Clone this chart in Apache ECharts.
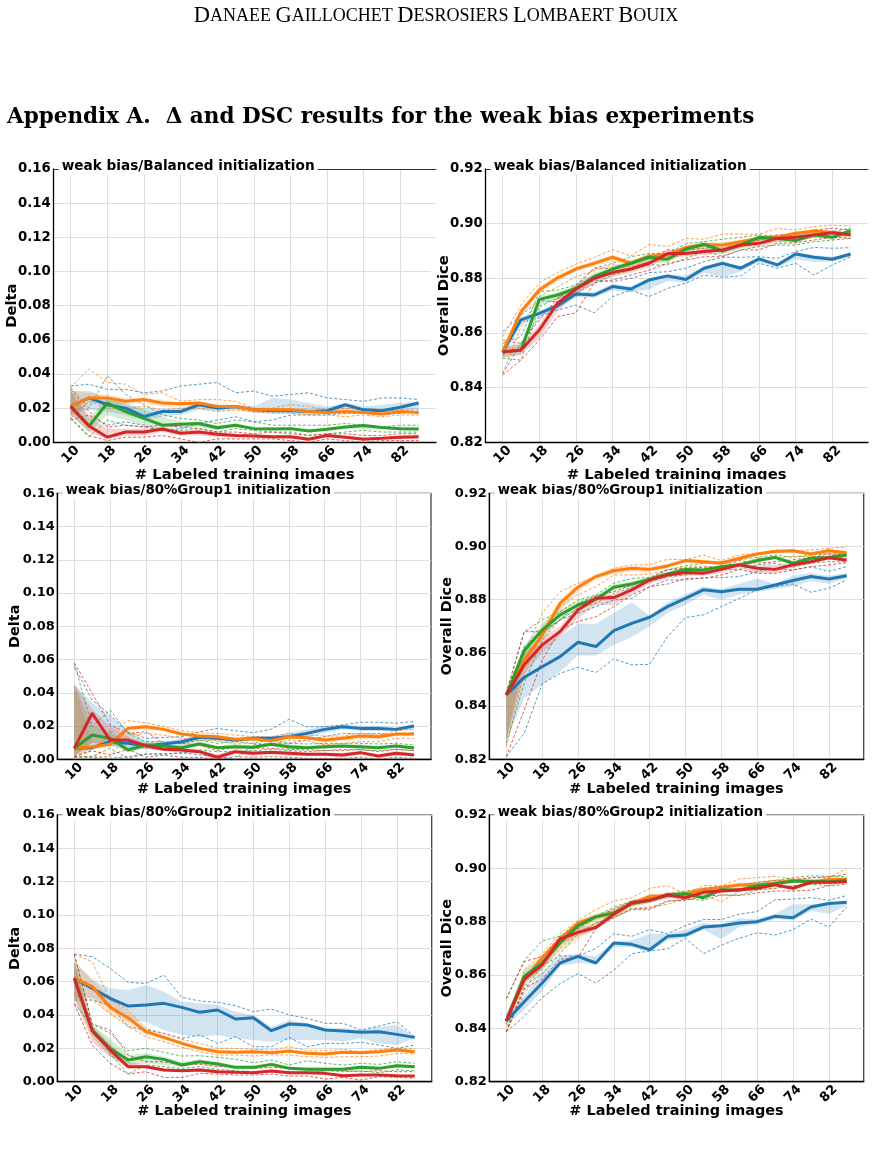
<!DOCTYPE html>
<html>
<head>
<meta charset="utf-8">
<script src="https://cdn.jsdelivr.net/npm/echarts@6/dist/echarts.min.js"></script>
<style>
html, body { margin: 0; padding: 0; background: #fff; }
#page { width: 872px; height: 1153px; }
</style>
</head>
<body>
<div id="page"></div>
<script>
// x = number of labeled training images
const xs = [10, 14, 18, 22, 26, 30, 34, 38, 42, 46, 50, 54, 58, 62, 66, 70, 74, 78, 82, 86]
const xTicks = [10, 18, 26, 34, 42, 50, 58, 66, 74, 82]
const panelTitles = [
    'weak bias/Balanced initialization', 'weak bias/Balanced initialization',
    'weak bias/80%Group1 initialization', 'weak bias/80%Group1 initialization',
    'weak bias/80%Group2 initialization', 'weak bias/80%Group2 initialization'
]
const yNames = ['Delta', 'Overall Dice', 'Delta', 'Overall Dice', 'Delta', 'Overall Dice']
const xName = '# Labeled training images'
const deltaRange = [0, 0.16]
const diceRange = [0.82, 0.92]

// ---- Balanced / Delta ----
const balDeltaBlue = [0.021,0.026,0.022,0.020,0.015,0.018,0.018,0.022,0.020,0.021,0.019,0.0185,0.0185,0.018,0.0185,0.022,0.019,0.0185,0.0205,0.023]
const balDeltaBlueHi = [0.033,0.034,0.031,0.031,0.029,0.030,0.033,0.034,0.035,0.029,0.030,0.027,0.028,0.029,0.026,0.025,0.024,0.026,0.026,0.025]
const balDeltaBlueLo = [0.013,0.016,0.010,0.012,0.010,0.007,0.008,0.011,0.013,0.015,0.012,0.013,0.016,0.016,0.016,0.017,0.017,0.016,0.017,0.018]
const balDeltaBlueBandLo = [0.016,0.019,0.018,0.016,0.013,0.015,0.016,0.019,0.018,0.019,0.017,0.017,0.017,0.016,0.017,0.019,0.018,0.017,0.018,0.019]
const balDeltaBlueBandHi = [0.030,0.030,0.026,0.023,0.020,0.019,0.020,0.023,0.022,0.022,0.021,0.026,0.025,0.023,0.021,0.023,0.021,0.022,0.023,0.024]
const balDeltaOrange = [0.021,0.026,0.026,0.024,0.025,0.023,0.0225,0.023,0.021,0.021,0.019,0.019,0.019,0.018,0.0175,0.018,0.0175,0.0165,0.018,0.0175]
const balDeltaOrangeHi = [0.032,0.043,0.035,0.034,0.028,0.029,0.024,0.025,0.025,0.024,0.020,0.020,0.022,0.021,0.019,0.020,0.019,0.018,0.019,0.019]
const balDeltaOrangeLo = [0.014,0.024,0.020,0.020,0.021,0.019,0.020,0.020,0.018,0.019,0.018,0.017,0.017,0.016,0.016,0.015,0.016,0.015,0.016,0.016]
const balDeltaOrangeBandLo = [0.016,0.023,0.023,0.022,0.023,0.021,0.021,0.021,0.020,0.020,0.018,0.018,0.018,0.017,0.017,0.017,0.017,0.016,0.017,0.017]
const balDeltaOrangeBandHi = [0.030,0.029,0.028,0.026,0.026,0.025,0.023,0.024,0.022,0.022,0.020,0.020,0.020,0.019,0.018,0.019,0.018,0.017,0.018,0.018]
const balDeltaGreen = [0.021,0.0095,0.023,0.018,0.014,0.010,0.0105,0.011,0.0085,0.010,0.008,0.0078,0.008,0.0066,0.0076,0.009,0.0098,0.0086,0.008,0.0078]
const balDeltaGreenHi = [0.032,0.020,0.039,0.028,0.022,0.016,0.014,0.013,0.011,0.013,0.012,0.010,0.010,0.010,0.010,0.011,0.010,0.009,0.010,0.010]
const balDeltaGreenLo = [0.014,0.003,0.013,0.010,0.009,0.007,0.007,0.008,0.006,0.008,0.007,0.006,0.006,0.004,0.005,0.006,0.007,0.006,0.006,0.006]
const balDeltaGreenBandLo = [0.016,0.006,0.016,0.013,0.010,0.008,0.009,0.009,0.007,0.009,0.007,0.007,0.007,0.006,0.007,0.008,0.008,0.008,0.007,0.007]
const balDeltaGreenBandHi = [0.030,0.014,0.026,0.022,0.019,0.015,0.012,0.012,0.010,0.011,0.009,0.009,0.009,0.008,0.008,0.010,0.010,0.009,0.009,0.009]
const balDeltaRed = [0.021,0.0095,0.003,0.006,0.006,0.0078,0.0053,0.006,0.0047,0.004,0.0037,0.0033,0.0033,0.0018,0.004,0.003,0.0018,0.0023,0.003,0.0033]
const balDeltaRedHi = [0.031,0.018,0.009,0.010,0.009,0.010,0.009,0.008,0.006,0.006,0.005,0.006,0.005,0.004,0.005,0.005,0.004,0.004,0.005,0.005]
const balDeltaRedLo = [0.014,0.004,0.001,0.003,0.003,0.004,0.002,0.000,0.002,0.002,0.002,0.002,0.001,0.000,0.002,0.001,0.000,0.001,0.001,0.001]
const balDeltaRedBandLo = [0.016,0.006,0.002,0.004,0.004,0.006,0.004,0.004,0.003,0.003,0.003,0.002,0.002,0.001,0.003,0.002,0.001,0.002,0.002,0.002]
const balDeltaRedBandHi = [0.030,0.016,0.008,0.008,0.008,0.009,0.007,0.007,0.006,0.005,0.005,0.004,0.004,0.003,0.005,0.004,0.003,0.003,0.004,0.004]

// ---- Balanced / Dice ----
const balDiceBlue = [0.853,0.8648,0.8672,0.870,0.8743,0.8739,0.877,0.8761,0.8794,0.8809,0.8796,0.8837,0.8855,0.8837,0.8871,0.8849,0.8889,0.8877,0.887,0.8889]
const balDiceBlueHi = [0.8605,0.8666,0.8718,0.8715,0.8745,0.8794,0.8788,0.880,0.8821,0.8824,0.8837,0.8861,0.8877,0.8877,0.8879,0.8873,0.8898,0.8913,0.891,0.8912]
const balDiceBlueLo = [0.845,0.8562,0.866,0.8684,0.8702,0.8674,0.8733,0.8757,0.8733,0.8763,0.8782,0.8812,0.8804,0.8809,0.8855,0.8837,0.8855,0.8812,0.8849,0.8879]
const balDiceBlueBandLo = [0.851,0.863,0.866,0.869,0.873,0.873,0.8755,0.875,0.876,0.879,0.8785,0.882,0.8805,0.8825,0.886,0.884,0.887,0.886,0.8862,0.888]
const balDiceBlueBandHi = [0.855,0.866,0.868,0.871,0.875,0.875,0.878,0.877,0.880,0.8815,0.881,0.8845,0.886,0.8845,0.8875,0.8855,0.8895,0.8885,0.888,0.889]
const balDiceOrange = [0.853,0.8678,0.8757,0.8802,0.8834,0.8855,0.8877,0.8855,0.8882,0.8885,0.8913,0.8924,0.8922,0.8934,0.8946,0.895,0.8965,0.8973,0.8968,0.8961]
const balDiceOrangeHi = [0.8587,0.8702,0.8784,0.8821,0.8852,0.8877,0.8904,0.8882,0.8924,0.8916,0.8946,0.8943,0.8962,0.8962,0.8962,0.8982,0.8977,0.8989,0.8995,0.8991]
const balDiceOrangeLo = [0.8452,0.8623,0.8733,0.877,0.8806,0.8828,0.8849,0.8843,0.8861,0.8867,0.8891,0.8904,0.8904,0.8916,0.8928,0.8934,0.894,0.895,0.8952,0.895]
const balDiceOrangeBandLo = [0.851,0.866,0.8745,0.879,0.8825,0.8845,0.886,0.885,0.8872,0.8875,0.890,0.8915,0.891,0.8925,0.8938,0.894,0.8955,0.8965,0.896,0.8955]
const balDiceOrangeBandHi = [0.855,0.869,0.877,0.8812,0.8842,0.8862,0.8885,0.8865,0.889,0.8893,0.892,0.8932,0.8932,0.8942,0.8952,0.8958,0.897,0.898,0.8975,0.8968]
const balDiceGreen = [0.853,0.8538,0.8723,0.8739,0.8763,0.8806,0.8834,0.8855,0.8877,0.887,0.8907,0.8924,0.8901,0.8922,0.895,0.8946,0.8938,0.8959,0.895,0.8974]
const balDiceGreenHi = [0.8562,0.8587,0.8751,0.8757,0.8776,0.8837,0.8855,0.8879,0.8891,0.8891,0.8926,0.8934,0.8943,0.895,0.8959,0.8955,0.8959,0.8971,0.8971,0.8983]
const balDiceGreenLo = [0.8507,0.8501,0.8696,0.8727,0.8745,0.8782,0.8812,0.883,0.8849,0.8849,0.8873,0.8898,0.8882,0.8904,0.8916,0.8922,0.8922,0.8934,0.894,0.8946]
const balDiceGreenBandLo = [0.851,0.852,0.870,0.8725,0.875,0.879,0.882,0.884,0.886,0.8855,0.8895,0.891,0.889,0.891,0.8938,0.8935,0.8928,0.8948,0.894,0.8962]
const balDiceGreenBandHi = [0.855,0.856,0.8735,0.875,0.8775,0.882,0.8845,0.8865,0.8885,0.888,0.8915,0.8935,0.891,0.8932,0.8958,0.8955,0.8948,0.8968,0.8958,0.8982]
const balDiceRed = [0.853,0.8538,0.8611,0.8709,0.876,0.880,0.8821,0.8834,0.8855,0.8891,0.8891,0.8898,0.8904,0.8922,0.8928,0.8946,0.895,0.8959,0.8967,0.8959]
const balDiceRedHi = [0.8574,0.8562,0.8648,0.8727,0.877,0.8837,0.8837,0.8855,0.8873,0.8904,0.8904,0.891,0.8922,0.8934,0.894,0.8959,0.8962,0.8977,0.8983,0.8977]
const balDiceRedLo = [0.8446,0.8501,0.8574,0.866,0.8674,0.8784,0.8794,0.8812,0.883,0.8855,0.8867,0.8879,0.8879,0.8904,0.8904,0.8928,0.893,0.894,0.895,0.8946]
const balDiceRedBandLo = [0.851,0.852,0.858,0.868,0.874,0.878,0.8805,0.882,0.884,0.8875,0.888,0.8885,0.889,0.891,0.8915,0.8935,0.894,0.895,0.8958,0.895]
const balDiceRedBandHi = [0.855,0.856,0.863,0.873,0.878,0.8815,0.8835,0.885,0.887,0.8905,0.8902,0.891,0.8915,0.8932,0.894,0.8955,0.896,0.8968,0.8975,0.8968]

// ---- 80%Group1 / Delta ----
const g1DeltaBlue = [0.0066,0.007,0.0106,0.0096,0.0082,0.0092,0.0106,0.0132,0.0126,0.0116,0.0126,0.0126,0.0136,0.0156,0.018,0.0196,0.0186,0.0186,0.018,0.020]
const g1DeltaBlueHi = [0.0557,0.0357,0.0267,0.0166,0.0126,0.0132,0.0136,0.0166,0.0186,0.0172,0.016,0.018,0.024,0.0196,0.0196,0.0206,0.0223,0.0223,0.0217,0.0227]
const g1DeltaBlueLo = [0.0012,0.0012,0.0006,0.0016,0.0032,0.0032,0.004,0.0026,0.0016,0.000,0.0086,0.0096,0.0096,0.0116,0.0136,0.0156,0.0152,0.0156,0.0146,0.016]
const g1DeltaBlueBandLo = [0.002,0.006,0.008,0.006,0.006,0.007,0.008,0.011,0.011,0.010,0.011,0.011,0.012,0.013,0.016,0.018,0.017,0.017,0.017,0.018]
const g1DeltaBlueBandHi = [0.045,0.034,0.026,0.017,0.011,0.011,0.012,0.015,0.014,0.013,0.014,0.014,0.016,0.018,0.020,0.021,0.020,0.020,0.019,0.021]
const g1DeltaOrange = [0.0066,0.0076,0.009,0.0186,0.0196,0.018,0.0152,0.014,0.0136,0.012,0.0124,0.0112,0.0136,0.013,0.0116,0.0126,0.014,0.0136,0.0152,0.0152]
const g1DeltaOrangeHi = [0.0016,0.0056,0.0156,0.0233,0.022,0.0196,0.0172,0.016,0.0156,0.0146,0.0136,0.0132,0.0156,0.0146,0.014,0.014,0.016,0.0146,0.0172,0.018]
const g1DeltaOrangeLo = [0.0012,0.002,0.0016,0.0146,0.0156,0.0146,0.0126,0.0116,0.0112,0.0092,0.0096,0.009,0.0116,0.0112,0.0086,0.0096,0.0106,0.0106,0.0126,0.0126]
const g1DeltaOrangeBandLo = [0.002,0.006,0.007,0.017,0.018,0.017,0.014,0.013,0.012,0.011,0.011,0.010,0.012,0.012,0.010,0.011,0.012,0.012,0.014,0.014]
const g1DeltaOrangeBandHi = [0.045,0.010,0.011,0.020,0.021,0.019,0.016,0.015,0.015,0.013,0.013,0.012,0.015,0.014,0.013,0.014,0.015,0.015,0.016,0.016]
const g1DeltaGreen = [0.0066,0.0146,0.0126,0.0056,0.0086,0.008,0.007,0.0092,0.007,0.0076,0.0072,0.009,0.0076,0.007,0.0076,0.008,0.0076,0.007,0.008,0.0068]
const g1DeltaGreenHi = [0.0577,0.0196,0.0297,0.0156,0.0106,0.0106,0.0096,0.0116,0.0096,0.0106,0.0096,0.0116,0.0096,0.0092,0.0096,0.0096,0.0096,0.0092,0.0096,0.0086]
const g1DeltaGreenLo = [0.0016,0.0016,0.0066,0.0006,0.0032,0.0032,0.0036,0.0056,0.0046,0.0046,0.0052,0.006,0.0052,0.0046,0.0052,0.006,0.0056,0.0052,0.006,0.0052]
const g1DeltaGreenBandLo = [0.002,0.010,0.010,0.004,0.007,0.006,0.006,0.008,0.006,0.006,0.006,0.008,0.006,0.006,0.006,0.007,0.006,0.006,0.007,0.006]
const g1DeltaGreenBandHi = [0.045,0.020,0.017,0.008,0.010,0.009,0.008,0.011,0.008,0.009,0.008,0.010,0.009,0.008,0.009,0.009,0.009,0.008,0.009,0.008]
const g1DeltaRed = [0.0066,0.0277,0.0116,0.0116,0.0082,0.006,0.0056,0.0046,0.0012,0.0046,0.0036,0.0042,0.0036,0.003,0.003,0.0026,0.004,0.002,0.0036,0.0026]
const g1DeltaRedHi = [0.0581,0.0397,0.0207,0.0156,0.0166,0.0096,0.0096,0.0086,0.0052,0.0076,0.0066,0.0066,0.006,0.0056,0.0052,0.0052,0.006,0.0046,0.006,0.0052]
const g1DeltaRedLo = [0.0016,0.0052,0.0026,0.006,0.0012,0.0026,0.0012,0.0012,0.000,0.0016,0.0012,0.0016,0.0012,0.0006,0.0006,0.0006,0.0012,0.000,0.0012,0.0006]
const g1DeltaRedBandLo = [0.002,0.010,0.008,0.009,0.006,0.005,0.004,0.003,0.000,0.003,0.002,0.003,0.002,0.002,0.002,0.001,0.003,0.001,0.002,0.002]
const g1DeltaRedBandHi = [0.045,0.030,0.020,0.014,0.010,0.008,0.007,0.006,0.003,0.006,0.005,0.005,0.005,0.004,0.004,0.004,0.005,0.003,0.005,0.004]

// ---- 80%Group1 / Dice ----
const g1DiceBlue = [0.8442,0.8508,0.8548,0.8586,0.864,0.8624,0.8684,0.8711,0.8734,0.8774,0.8805,0.8837,0.883,0.8839,0.8839,0.8855,0.8872,0.8887,0.8878,0.889]
const g1DiceBlueHi = [0.8442,0.8624,0.8674,0.8724,0.8749,0.8774,0.8799,0.8805,0.8849,0.8874,0.8874,0.8883,0.8883,0.8887,0.8906,0.8918,0.8912,0.8924,0.8906,0.8924]
const g1DiceBlueLo = [0.821,0.8298,0.8483,0.8523,0.8546,0.8526,0.8577,0.8555,0.8557,0.8661,0.8733,0.8743,0.8774,0.8805,0.8837,0.8849,0.8859,0.8828,0.8843,0.8874]
const g1DiceBlueBandLo = [0.827,0.843,0.848,0.853,0.859,0.859,0.863,0.866,0.870,0.875,0.878,0.882,0.880,0.882,0.883,0.884,0.885,0.887,0.886,0.888]
const g1DiceBlueBandHi = [0.845,0.862,0.863,0.866,0.871,0.871,0.875,0.879,0.874,0.879,0.882,0.885,0.884,0.886,0.888,0.886,0.889,0.890,0.889,0.890]
const g1DiceOrange = [0.8442,0.8573,0.8667,0.8786,0.8847,0.8887,0.8909,0.8918,0.8914,0.8927,0.8947,0.8943,0.8937,0.8956,0.8972,0.8981,0.8984,0.8972,0.8984,0.8977]
const g1DiceOrangeHi = [0.845,0.8598,0.8749,0.883,0.8862,0.8887,0.8918,0.8931,0.8931,0.8952,0.895,0.8968,0.8947,0.8968,0.8974,0.8987,0.8984,0.8987,0.8993,0.8999]
const g1DiceOrangeLo = [0.8248,0.8523,0.8686,0.8774,0.8818,0.8849,0.8893,0.8893,0.8895,0.8912,0.8922,0.8927,0.8918,0.8931,0.8956,0.8956,0.8964,0.8962,0.8962,0.8977]
const g1DiceOrangeBandLo = [0.827,0.855,0.864,0.875,0.883,0.8875,0.8898,0.8905,0.8902,0.8918,0.8938,0.8935,0.893,0.8948,0.8965,0.8975,0.8978,0.8965,0.8978,0.897]
const g1DiceOrangeBandHi = [0.845,0.860,0.870,0.880,0.886,0.8897,0.8918,0.8928,0.8925,0.8935,0.8955,0.895,0.8945,0.8962,0.8978,0.8988,0.899,0.898,0.899,0.8984]
const g1DiceGreen = [0.8442,0.8609,0.8686,0.8743,0.878,0.8802,0.8847,0.8859,0.8877,0.8897,0.8914,0.8912,0.8924,0.8931,0.8947,0.8959,0.8937,0.8956,0.8959,0.8968]
const g1DiceGreenHi = [0.845,0.868,0.8724,0.8755,0.8799,0.8818,0.8862,0.888,0.8884,0.8912,0.8927,0.8937,0.8943,0.895,0.8959,0.8968,0.8959,0.8968,0.8972,0.8974]
const g1DiceGreenLo = [0.826,0.8486,0.8649,0.8724,0.8768,0.8786,0.8824,0.8847,0.8868,0.8887,0.8893,0.8902,0.8914,0.8914,0.8931,0.8937,0.8922,0.8937,0.8943,0.8943]
const g1DiceGreenBandLo = [0.827,0.858,0.866,0.872,0.8765,0.879,0.8835,0.885,0.887,0.889,0.8905,0.8905,0.8915,0.8925,0.894,0.8952,0.893,0.895,0.8952,0.896]
const g1DiceGreenBandHi = [0.845,0.863,0.871,0.876,0.8795,0.8815,0.8858,0.8868,0.8885,0.8905,0.8922,0.892,0.893,0.8938,0.8955,0.8966,0.8945,0.8962,0.8966,0.8975]
const g1DiceRed = [0.8442,0.8555,0.863,0.868,0.8761,0.8805,0.8808,0.8837,0.8874,0.8893,0.8902,0.8899,0.8914,0.8931,0.8918,0.8914,0.8931,0.8943,0.8958,0.8949]
const g1DiceRedHi = [0.845,0.868,0.868,0.8724,0.8786,0.8814,0.883,0.8855,0.888,0.8912,0.8918,0.8922,0.8924,0.8947,0.8937,0.8943,0.895,0.8959,0.8972,0.8968]
const g1DiceRedLo = [0.821,0.8385,0.8573,0.8686,0.8718,0.8736,0.8774,0.8818,0.8849,0.8859,0.888,0.888,0.8893,0.8914,0.8899,0.8899,0.8912,0.8924,0.8931,0.8939]
const g1DiceRedBandLo = [0.827,0.852,0.860,0.866,0.873,0.878,0.878,0.882,0.886,0.888,0.889,0.889,0.890,0.892,0.890,0.890,0.892,0.8935,0.895,0.894]
const g1DiceRedBandHi = [0.845,0.858,0.866,0.870,0.878,0.882,0.882,0.885,0.888,0.890,0.891,0.891,0.892,0.894,0.893,0.893,0.894,0.895,0.8966,0.8958]

// ---- 80%Group2 / Delta ----
const g2DeltaBlue = [0.062,0.056,0.050,0.0454,0.046,0.047,0.0446,0.0416,0.043,0.0376,0.0384,0.0306,0.0346,0.034,0.031,0.0304,0.0296,0.030,0.0284,0.0266]
const g2DeltaBlueHi = [0.0766,0.075,0.068,0.0596,0.059,0.064,0.0506,0.0484,0.0476,0.0456,0.042,0.0436,0.040,0.038,0.035,0.035,0.031,0.0334,0.036,0.027]
const g2DeltaBlueLo = [0.049,0.049,0.046,0.033,0.031,0.029,0.026,0.028,0.023,0.027,0.021,0.021,0.0266,0.021,0.023,0.023,0.0236,0.022,0.020,0.022]
const g2DeltaBlueBandLo = [0.050,0.050,0.044,0.036,0.036,0.031,0.028,0.027,0.028,0.026,0.025,0.024,0.025,0.025,0.025,0.024,0.026,0.023,0.022,0.026]
const g2DeltaBlueBandHi = [0.072,0.061,0.056,0.055,0.058,0.054,0.048,0.047,0.046,0.042,0.040,0.033,0.037,0.035,0.032,0.032,0.031,0.033,0.034,0.027]
const g2DeltaOrange = [0.062,0.057,0.0446,0.0384,0.030,0.0266,0.023,0.020,0.018,0.0176,0.018,0.0174,0.0184,0.017,0.0166,0.0176,0.0174,0.018,0.019,0.018]
const g2DeltaOrangeHi = [0.0766,0.072,0.049,0.043,0.032,0.029,0.0254,0.023,0.020,0.020,0.0194,0.019,0.021,0.0186,0.0186,0.0194,0.018,0.0194,0.020,0.020]
const g2DeltaOrangeLo = [0.049,0.049,0.041,0.033,0.027,0.024,0.0206,0.018,0.016,0.016,0.0154,0.016,0.016,0.015,0.0146,0.015,0.015,0.0154,0.017,0.0166]
const g2DeltaOrangeBandLo = [0.050,0.050,0.040,0.034,0.028,0.025,0.022,0.019,0.017,0.017,0.017,0.0165,0.0175,0.016,0.0158,0.0168,0.0166,0.0172,0.018,0.017]
const g2DeltaOrangeBandHi = [0.072,0.062,0.050,0.042,0.032,0.028,0.024,0.021,0.019,0.0185,0.019,0.0183,0.0193,0.018,0.0175,0.0185,0.0183,0.019,0.020,0.019]
const g2DeltaGreen = [0.062,0.031,0.020,0.013,0.015,0.0134,0.010,0.012,0.0106,0.0086,0.0086,0.0104,0.008,0.0074,0.0074,0.0074,0.0086,0.008,0.0096,0.009]
const g2DeltaGreenHi = [0.076,0.0346,0.029,0.0186,0.020,0.0176,0.0154,0.0156,0.0146,0.0134,0.0114,0.013,0.010,0.0126,0.011,0.010,0.011,0.0104,0.012,0.011]
const g2DeltaGreenLo = [0.047,0.033,0.017,0.0046,0.010,0.009,0.008,0.009,0.0074,0.0066,0.006,0.0066,0.006,0.0054,0.0066,0.006,0.0066,0.0054,0.007,0.0066]
const g2DeltaGreenBandLo = [0.050,0.027,0.015,0.010,0.011,0.010,0.009,0.010,0.009,0.0075,0.0075,0.009,0.007,0.0065,0.0065,0.0065,0.0075,0.007,0.0085,0.008]
const g2DeltaGreenBandHi = [0.072,0.034,0.026,0.016,0.017,0.015,0.012,0.0135,0.012,0.0095,0.0095,0.0115,0.009,0.0085,0.0085,0.0085,0.0095,0.009,0.0105,0.010]
const g2DeltaRed = [0.062,0.0304,0.019,0.009,0.009,0.007,0.0066,0.007,0.006,0.0056,0.0054,0.0064,0.0054,0.0054,0.005,0.0036,0.004,0.004,0.0036,0.0034]
const g2DeltaRedHi = [0.0766,0.0346,0.031,0.016,0.012,0.012,0.010,0.0106,0.009,0.009,0.008,0.0086,0.008,0.007,0.007,0.0066,0.006,0.0066,0.006,0.006]
const g2DeltaRedLo = [0.0466,0.022,0.011,0.0046,0.006,0.0026,0.0026,0.005,0.0046,0.004,0.004,0.0046,0.0034,0.0034,0.0016,0.0026,0.001,0.003,0.0026,0.002]
const g2DeltaRedBandLo = [0.050,0.024,0.015,0.008,0.008,0.006,0.006,0.006,0.005,0.005,0.0048,0.0055,0.0048,0.0048,0.0042,0.003,0.0034,0.0034,0.003,0.0028]
const g2DeltaRedBandHi = [0.072,0.034,0.023,0.012,0.010,0.008,0.0073,0.008,0.007,0.0063,0.006,0.0072,0.006,0.006,0.0058,0.0042,0.0046,0.0046,0.0042,0.004]

// ---- 80%Group2 / Dice ----
const g2DiceBlue = [0.8428,0.850,0.857,0.8645,0.867,0.8645,0.872,0.8715,0.8695,0.8745,0.875,0.878,0.8785,0.8795,0.880,0.882,0.8815,0.8855,0.8868,0.8873]
const g2DiceBlueHi = [0.8387,0.8545,0.8635,0.8672,0.867,0.870,0.8755,0.8745,0.877,0.8755,0.8785,0.8808,0.8808,0.8828,0.8838,0.8882,0.8885,0.889,0.888,0.8898]
const g2DiceBlueLo = [0.8387,0.8445,0.8515,0.8568,0.8605,0.857,0.8618,0.868,0.869,0.8698,0.8738,0.868,0.8712,0.8738,0.8758,0.875,0.877,0.881,0.878,0.8855]
const g2DiceBlueBandLo = [0.841,0.847,0.854,0.8635,0.8645,0.864,0.8705,0.8705,0.8685,0.873,0.874,0.877,0.8735,0.878,0.879,0.881,0.8805,0.884,0.883,0.886]
const g2DiceBlueBandHi = [0.845,0.852,0.861,0.867,0.868,0.867,0.8725,0.873,0.8755,0.8755,0.877,0.8795,0.879,0.8812,0.881,0.883,0.8865,0.8865,0.887,0.8875]
const g2DiceOrange = [0.8428,0.858,0.8665,0.8735,0.8795,0.882,0.8835,0.8868,0.8895,0.8897,0.8905,0.892,0.8928,0.8938,0.8938,0.8945,0.8955,0.8948,0.8958,0.896]
const g2DiceOrangeHi = [0.8387,0.862,0.868,0.8755,0.8805,0.8845,0.8878,0.889,0.8925,0.8935,0.8905,0.8935,0.8935,0.896,0.8965,0.897,0.896,0.8965,0.8965,0.900]
const g2DiceOrangeLo = [0.8387,0.853,0.862,0.870,0.876,0.8795,0.882,0.885,0.8855,0.8865,0.8885,0.890,0.8875,0.8915,0.892,0.8925,0.8935,0.894,0.8945,0.8955]
const g2DiceOrangeBandLo = [0.841,0.856,0.862,0.869,0.873,0.878,0.8815,0.8855,0.8885,0.8888,0.8897,0.8912,0.892,0.893,0.893,0.8938,0.8948,0.8942,0.8952,0.8953]
const g2DiceOrangeBandHi = [0.845,0.861,0.867,0.874,0.878,0.882,0.885,0.888,0.8905,0.8905,0.8913,0.8928,0.8936,0.8946,0.8946,0.8952,0.8962,0.8955,0.8965,0.8967]
const g2DiceGreen = [0.8428,0.8595,0.8645,0.872,0.8785,0.8818,0.8832,0.8868,0.888,0.890,0.8905,0.889,0.892,0.8918,0.8935,0.8942,0.8952,0.8952,0.895,0.8955]
const g2DiceGreenHi = [0.851,0.8655,0.8728,0.8745,0.880,0.882,0.8855,0.8878,0.8885,0.8905,0.8915,0.8925,0.8925,0.8935,0.8945,0.8955,0.8965,0.8972,0.897,0.897]
const g2DiceGreenLo = [0.8387,0.856,0.8605,0.868,0.8755,0.8795,0.8815,0.8845,0.8845,0.8875,0.8885,0.888,0.890,0.890,0.8918,0.8925,0.8935,0.894,0.8935,0.8955]
const g2DiceGreenBandLo = [0.841,0.857,0.862,0.8705,0.877,0.8805,0.882,0.8855,0.887,0.889,0.8897,0.888,0.891,0.891,0.8927,0.8935,0.8945,0.8945,0.8943,0.8948]
const g2DiceGreenBandHi = [0.845,0.862,0.867,0.8735,0.880,0.883,0.8845,0.888,0.889,0.891,0.8913,0.890,0.893,0.8926,0.8943,0.895,0.896,0.896,0.8957,0.8962]
const g2DiceRed = [0.8428,0.8585,0.8638,0.8735,0.876,0.8778,0.8828,0.887,0.888,0.890,0.889,0.891,0.8915,0.892,0.8925,0.8938,0.8925,0.8948,0.8948,0.895]
const g2DiceRedHi = [0.8512,0.865,0.867,0.8745,0.8775,0.8815,0.8848,0.8875,0.889,0.8905,0.8905,0.8925,0.8932,0.8938,0.8948,0.8955,0.8955,0.8965,0.8968,0.8978]
const g2DiceRedLo = [0.8387,0.855,0.8585,0.866,0.8665,0.8775,0.8815,0.8848,0.885,0.8878,0.888,0.8895,0.890,0.8898,0.8908,0.8915,0.8915,0.8918,0.8935,0.894]
const g2DiceRedBandLo = [0.841,0.857,0.8625,0.8715,0.8745,0.877,0.882,0.886,0.887,0.889,0.888,0.890,0.8908,0.8913,0.8918,0.893,0.8918,0.894,0.894,0.8943]
const g2DiceRedBandHi = [0.845,0.860,0.8655,0.875,0.8775,0.879,0.8838,0.888,0.889,0.891,0.890,0.892,0.8922,0.8927,0.8932,0.8946,0.8932,0.8956,0.8956,0.8957]

const colors = ['#1f77b4', '#ff7f0e', '#2ca02c', '#d62728']

// per panel: [mean, hi, lo, bandLo, bandHi] for blue, orange, green, red
const panelData = [
    [[balDeltaBlue, balDeltaBlueHi, balDeltaBlueLo, balDeltaBlueBandLo, balDeltaBlueBandHi],
     [balDeltaOrange, balDeltaOrangeHi, balDeltaOrangeLo, balDeltaOrangeBandLo, balDeltaOrangeBandHi],
     [balDeltaGreen, balDeltaGreenHi, balDeltaGreenLo, balDeltaGreenBandLo, balDeltaGreenBandHi],
     [balDeltaRed, balDeltaRedHi, balDeltaRedLo, balDeltaRedBandLo, balDeltaRedBandHi]],
    [[balDiceBlue, balDiceBlueHi, balDiceBlueLo, balDiceBlueBandLo, balDiceBlueBandHi],
     [balDiceOrange, balDiceOrangeHi, balDiceOrangeLo, balDiceOrangeBandLo, balDiceOrangeBandHi],
     [balDiceGreen, balDiceGreenHi, balDiceGreenLo, balDiceGreenBandLo, balDiceGreenBandHi],
     [balDiceRed, balDiceRedHi, balDiceRedLo, balDiceRedBandLo, balDiceRedBandHi]],
    [[g1DeltaBlue, g1DeltaBlueHi, g1DeltaBlueLo, g1DeltaBlueBandLo, g1DeltaBlueBandHi],
     [g1DeltaOrange, g1DeltaOrangeHi, g1DeltaOrangeLo, g1DeltaOrangeBandLo, g1DeltaOrangeBandHi],
     [g1DeltaGreen, g1DeltaGreenHi, g1DeltaGreenLo, g1DeltaGreenBandLo, g1DeltaGreenBandHi],
     [g1DeltaRed, g1DeltaRedHi, g1DeltaRedLo, g1DeltaRedBandLo, g1DeltaRedBandHi]],
    [[g1DiceBlue, g1DiceBlueHi, g1DiceBlueLo, g1DiceBlueBandLo, g1DiceBlueBandHi],
     [g1DiceOrange, g1DiceOrangeHi, g1DiceOrangeLo, g1DiceOrangeBandLo, g1DiceOrangeBandHi],
     [g1DiceGreen, g1DiceGreenHi, g1DiceGreenLo, g1DiceGreenBandLo, g1DiceGreenBandHi],
     [g1DiceRed, g1DiceRedHi, g1DiceRedLo, g1DiceRedBandLo, g1DiceRedBandHi]],
    [[g2DeltaBlue, g2DeltaBlueHi, g2DeltaBlueLo, g2DeltaBlueBandLo, g2DeltaBlueBandHi],
     [g2DeltaOrange, g2DeltaOrangeHi, g2DeltaOrangeLo, g2DeltaOrangeBandLo, g2DeltaOrangeBandHi],
     [g2DeltaGreen, g2DeltaGreenHi, g2DeltaGreenLo, g2DeltaGreenBandLo, g2DeltaGreenBandHi],
     [g2DeltaRed, g2DeltaRedHi, g2DeltaRedLo, g2DeltaRedBandLo, g2DeltaRedBandHi]],
    [[g2DiceBlue, g2DiceBlueHi, g2DiceBlueLo, g2DiceBlueBandLo, g2DiceBlueBandHi],
     [g2DiceOrange, g2DiceOrangeHi, g2DiceOrangeLo, g2DiceOrangeBandLo, g2DiceOrangeBandHi],
     [g2DiceGreen, g2DiceGreenHi, g2DiceGreenLo, g2DiceGreenBandLo, g2DiceGreenBandHi],
     [g2DiceRed, g2DiceRedHi, g2DiceRedLo, g2DiceRedBandLo, g2DiceRedBandHi]]
]

// grid boxes [left, top, width, height] and font scale per panel
const boxes = [
    [53.3, 169, 382.7, 273.3], [485.3, 169, 382.7, 273.3],
    [57.3, 493.3, 373.7, 266], [489.3, 493.3, 374.4, 266],
    [57.3, 815, 374.4, 266.7], [489.3, 815, 374.4, 266.7]
]
const scales = [1, 1, 0.977, 0.977, 0.977, 0.977]
const titleLeft = [58.7, 490.7, 62.7, 494.7, 62.7, 494.7]
const titleMid = [166.7, 166.7, 491, 491, 812.7, 812.7]

let myChart = echarts.init(document.getElementById('page'), null, { renderer: 'canvas' })

const grids = []
const xAxes = []
const yAxes = []
const titles = []
const series = []

boxes.forEach((b, p) => {
    const s = scales[p]
    const isDice = p % 2 === 1
    const boxed = p >= 2
    grids.push({
        left: b[0], top: b[1], width: b[2], height: b[3],
        containLabel: false, outerBoundsMode: 'none',
        show: boxed, borderColor: '#333', borderWidth: 1.2, backgroundColor: 'transparent'
    })
    xAxes.push({
        type: 'value', gridIndex: p, min: 6.2, max: 89.8,
        name: xName, nameLocation: 'middle', nameGap: p < 2 ? 25 : 23 * s, nameMoveOverlap: false,
        nameTextStyle: { fontFamily: 'DejaVu Sans', fontWeight: 'bold', fontSize: 14.8 * s, color: '#000' },
        axisLine: { show: true, onZero: false, lineStyle: { color: '#000', width: 1.3 } },
        axisTick: { show: false, customValues: xTicks },
        axisLabel: {
            customValues: xTicks, rotate: 45, align: 'center', verticalAlign: 'middle',
            margin: 12.5 * s, hideOverlap: false,
            fontFamily: 'DejaVu Sans', fontWeight: 'bold', fontSize: 13.4 * s, color: '#000'
        },
        splitLine: { show: true, lineStyle: { color: '#dedede', width: 1 } }
    })
    const yr = isDice ? diceRange : deltaRange
    yAxes.push({
        type: 'value', gridIndex: p, min: yr[0], max: yr[1], interval: 0.02,
        name: yNames[p], nameLocation: 'middle', nameGap: p < 2 ? 34 : 35, nameMoveOverlap: false,
        nameTextStyle: { fontFamily: 'DejaVu Sans', fontWeight: 'bold', fontSize: 14.8 * s, color: '#000' },
        axisLine: { show: true, onZero: false, lineStyle: { color: '#000', width: 1.3 } },
        axisTick: { show: false },
        axisLabel: {
            margin: 2.5, hideOverlap: false,
            formatter: (v) => v.toFixed(2),
            fontFamily: 'DejaVu Sans', fontWeight: 'bold', fontSize: 13.3 * s, color: '#000'
        },
        splitLine: { show: true, lineStyle: { color: '#dedede', width: 1 } }
    })
    titles.push({
        text: panelTitles[p], left: titleLeft[p], top: titleMid[p] - 8,
        padding: [0, 3, 0, 3], backgroundColor: '#fff',
        textStyle: { fontFamily: 'DejaVu Sans', fontWeight: 'bold', fontSize: 13.65 * s, color: '#000', lineHeight: 16 }
    })

    const pd = panelData[p]
    // shaded bands
    pd.forEach((c, ci) => {
        const lo = c[3]
        const hi = c[4]
        series.push({
            type: 'custom', xAxisIndex: p, yAxisIndex: p, z: 1, silent: true,
            data: xs.map((x, i) => [x, lo[i], hi[i]]),
            renderItem: function (params, api) {
                if (params.dataIndex !== 0) return null
                const top = xs.map((x, i) => api.coord([x, hi[i]]))
                const bot = xs.map((x, i) => api.coord([x, lo[i]])).reverse()
                return {
                    type: 'polygon',
                    shape: { points: top.concat(bot) },
                    style: { fill: colors[ci], opacity: 0.2 }
                }
            }
        })
    })
    // dashed individual runs
    pd.forEach((c, ci) => {
        [c[1], c[2]].forEach((arr) => {
            series.push({
                type: 'line', xAxisIndex: p, yAxisIndex: p, z: 2, silent: true,
                symbol: 'none', showSymbol: false,
                data: xs.map((x, i) => [x, arr[i]]),
                lineStyle: { color: colors[ci], width: 1, type: [3, 2], opacity: 0.75 }
            })
        })
    })
    // main lines
    pd.forEach((c, ci) => {
        series.push({
            type: 'line', xAxisIndex: p, yAxisIndex: p, z: 3, silent: true,
            symbol: 'none', showSymbol: false,
            data: xs.map((x, i) => [x, c[0][i]]),
            lineStyle: { color: colors[ci], width: 3 }
        })
    })
})

// top spines of the upper two panels (right spine cropped away in the original)
;[0, 1].forEach((p) => {
    xAxes.push({
        type: 'value', gridIndex: p, position: 'top', min: 6.2, max: 89.8,
        axisLine: { show: true, onZero: false, lineStyle: { color: '#333', width: 1.2 } },
        axisTick: { show: false }, axisLabel: { show: false }, splitLine: { show: false }
    })
})

const headerWords = ['Danaee', 'Gaillochet', 'Desrosiers', 'Lombaert', 'Bouix']
const headerText = headerWords.map((w) => '{b|' + w[0].toUpperCase() + '}{s|' + w.slice(1).toUpperCase() + '}').join('{s| }')

const option = {
    animation: false,
    backgroundColor: '#fff',
    title: titles,
    grid: grids,
    xAxis: xAxes,
    yAxis: yAxes,
    series: series,
    graphic: [
        {
            type: 'text', x: 436, y: 16, z: 100,
            style: {
                text: headerText, align: 'center', verticalAlign: 'middle', fill: '#000',
                rich: {
                    b: { fontFamily: 'Liberation Serif', fontSize: 22.5, fill: '#000' },
                    s: { fontFamily: 'Liberation Serif', fontSize: 18, fill: '#000' }
                }
            }
        },
        {
            type: 'text', x: 7, y: 117, z: 100,
            style: {
                text: 'Appendix A.  \u0394 and DSC results for the weak bias experiments',
                align: 'left', verticalAlign: 'middle', fill: '#000',
                font: 'bold 21.5px "DejaVu Serif"'
            }
        },
        // crop edges of the upper figures
        { type: 'rect', z: 100, shape: { x: 0, y: 479.5, width: 872, height: 4.5 }, style: { fill: '#fff' } },
        { type: 'rect', z: 100, shape: { x: 431, y: 250, width: 5.3, height: 120 }, style: { fill: '#fff' } }
    ]
}

myChart.setOption(option)

window.addEventListener('resize', () => {
    myChart.resize()
})
</script>
</body>
</html>
